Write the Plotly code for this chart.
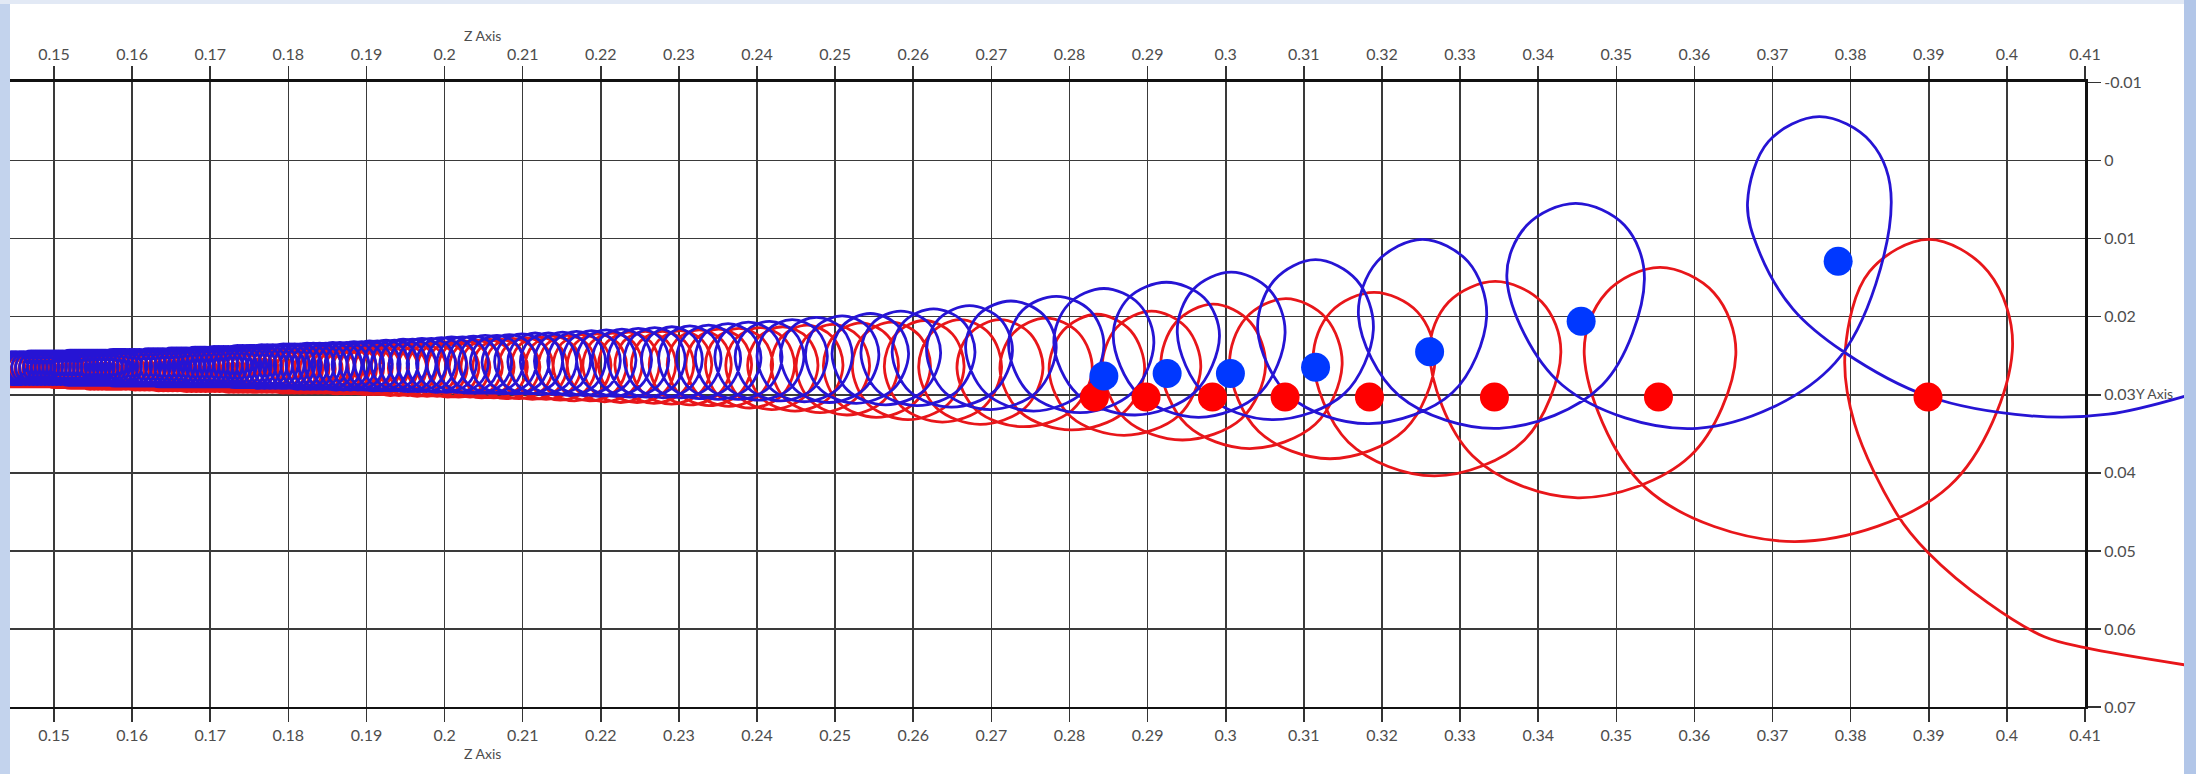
import plotly.graph_objects as go

# ---------------- axis ticks ----------------
x_ticks = [0.15, 0.16, 0.17, 0.18, 0.19, 0.20, 0.21, 0.22, 0.23, 0.24, 0.25, 0.26, 0.27, 0.28,
           0.29, 0.30, 0.31, 0.32, 0.33, 0.34, 0.35, 0.36, 0.37, 0.38, 0.39, 0.40, 0.41]
x_tick_labels = ["0.15", "0.16", "0.17", "0.18", "0.19", "0.2", "0.21", "0.22", "0.23", "0.24",
                 "0.25", "0.26", "0.27", "0.28", "0.29", "0.3", "0.31", "0.32", "0.33", "0.34",
                 "0.35", "0.36", "0.37", "0.38", "0.39", "0.4", "0.41"]
y_ticks = [-0.01, 0.0, 0.01, 0.02, 0.03, 0.04, 0.05, 0.06, 0.07]
y_tick_labels = ["-0.01", "0", "0.01", "0.02", "0.03", "0.04", "0.05", "0.06", "0.07"]

# ---------------- blue trajectory: one entry per loop ----------------
blue_cx = [
    0.1446, 0.1451, 0.1456, 0.1461, 0.1466, 0.1471, 0.1476, 0.1481, 0.1486, 0.1491,
    0.1496, 0.1501, 0.1506, 0.1511, 0.1516, 0.1521, 0.1526, 0.1531, 0.1536, 0.1541,
    0.1546, 0.1551, 0.1556, 0.1561, 0.1566, 0.1571, 0.1576, 0.1581, 0.1586, 0.1591,
    0.1597, 0.1603, 0.1609, 0.1615, 0.1621, 0.1627, 0.1633, 0.1639, 0.1645, 0.1651,
    0.1657, 0.1663, 0.1669, 0.1675, 0.1681, 0.1687, 0.1693, 0.1699, 0.1705, 0.1711,
    0.1717, 0.1723, 0.1729, 0.1735, 0.1741, 0.1747, 0.1753, 0.1759, 0.1766, 0.1773,
    0.1780, 0.1787, 0.1794, 0.1801, 0.1808, 0.1816, 0.1824, 0.1832, 0.1840, 0.1848,
    0.1857, 0.1866, 0.1875, 0.1884, 0.1894, 0.1904, 0.1914, 0.1925, 0.1936, 0.1947,
    0.1959, 0.1971, 0.1983, 0.1996, 0.2009, 0.2023, 0.2037, 0.2052, 0.2067, 0.2083,
    0.2099, 0.2116, 0.2133, 0.2151, 0.2169, 0.2188, 0.2207, 0.2227, 0.2248, 0.2269,
    0.2291, 0.2314, 0.2338, 0.2363, 0.2389, 0.2416, 0.2445, 0.2476, 0.2509, 0.2545,
    0.2584, 0.2626, 0.2672, 0.2725, 0.2783, 0.2844, 0.2924, 0.3007, 0.3115, 0.3252,
    0.3448, 0.3760]
blue_top = [
    0.0245, 0.0245, 0.0245, 0.0245, 0.0245, 0.0244, 0.0244, 0.0244, 0.0244, 0.0244,
    0.0244, 0.0244, 0.0244, 0.0244, 0.0244, 0.0243, 0.0243, 0.0243, 0.0243, 0.0243,
    0.0243, 0.0243, 0.0243, 0.0243, 0.0243, 0.0243, 0.0242, 0.0242, 0.0242, 0.0242,
    0.0242, 0.0242, 0.0242, 0.0242, 0.0241, 0.0241, 0.0241, 0.0241, 0.0241, 0.0240,
    0.0240, 0.0240, 0.0240, 0.0240, 0.0239, 0.0239, 0.0239, 0.0239, 0.0238, 0.0238,
    0.0238, 0.0238, 0.0238, 0.0237, 0.0237, 0.0237, 0.0237, 0.0237, 0.0236, 0.0236,
    0.0236, 0.0236, 0.0235, 0.0235, 0.0235, 0.0235, 0.0234, 0.0234, 0.0234, 0.0234,
    0.0233, 0.0233, 0.0233, 0.0232, 0.0232, 0.0231, 0.0231, 0.0230, 0.0230, 0.0229,
    0.0229, 0.0228, 0.0228, 0.0227, 0.0226, 0.0226, 0.0225, 0.0224, 0.0224, 0.0223,
    0.0222, 0.0221, 0.0221, 0.0220, 0.0219, 0.0218, 0.0217, 0.0216, 0.0215, 0.0214,
    0.0213, 0.0212, 0.0211, 0.0209, 0.0207, 0.0206, 0.0204, 0.0201, 0.0199, 0.0196,
    0.0193, 0.0190, 0.0186, 0.0180, 0.0174, 0.0164, 0.0156, 0.0143, 0.0127, 0.0101,
    0.0055, -0.0056]
blue_mid = [
    0.0265, 0.0265, 0.0265, 0.0265, 0.0265, 0.0265, 0.0265, 0.0265, 0.0265, 0.0265,
    0.0265, 0.0265, 0.0265, 0.0265, 0.0265, 0.0265, 0.0265, 0.0265, 0.0265, 0.0265,
    0.0265, 0.0265, 0.0265, 0.0265, 0.0265, 0.0264, 0.0264, 0.0264, 0.0264, 0.0264,
    0.0264, 0.0264, 0.0264, 0.0264, 0.0264, 0.0264, 0.0264, 0.0264, 0.0264, 0.0264,
    0.0264, 0.0264, 0.0264, 0.0263, 0.0263, 0.0263, 0.0263, 0.0263, 0.0263, 0.0263,
    0.0263, 0.0263, 0.0263, 0.0263, 0.0263, 0.0263, 0.0263, 0.0263, 0.0263, 0.0263,
    0.0263, 0.0263, 0.0263, 0.0262, 0.0262, 0.0262, 0.0262, 0.0262, 0.0262, 0.0262,
    0.0262, 0.0262, 0.0262, 0.0262, 0.0261, 0.0261, 0.0261, 0.0261, 0.0261, 0.0261,
    0.0261, 0.0261, 0.0260, 0.0260, 0.0260, 0.0260, 0.0259, 0.0259, 0.0259, 0.0259,
    0.0258, 0.0258, 0.0258, 0.0257, 0.0257, 0.0257, 0.0256, 0.0256, 0.0256, 0.0255,
    0.0255, 0.0254, 0.0254, 0.0253, 0.0252, 0.0252, 0.0251, 0.0250, 0.0249, 0.0248,
    0.0247, 0.0246, 0.0244, 0.0240, 0.0237, 0.0234, 0.0225, 0.0221, 0.0217, 0.0200,
    0.0152, 0.0054]
blue_hw = [
    0.0020, 0.0020, 0.0020, 0.0020, 0.0020, 0.0020, 0.0020, 0.0020, 0.0020, 0.0020,
    0.0020, 0.0020, 0.0020, 0.0020, 0.0020, 0.0021, 0.0021, 0.0021, 0.0021, 0.0021,
    0.0021, 0.0021, 0.0021, 0.0021, 0.0021, 0.0021, 0.0021, 0.0021, 0.0021, 0.0021,
    0.0022, 0.0022, 0.0022, 0.0022, 0.0022, 0.0022, 0.0022, 0.0022, 0.0022, 0.0022,
    0.0023, 0.0023, 0.0023, 0.0023, 0.0023, 0.0024, 0.0024, 0.0024, 0.0024, 0.0024,
    0.0024, 0.0024, 0.0024, 0.0024, 0.0024, 0.0025, 0.0025, 0.0025, 0.0025, 0.0025,
    0.0025, 0.0025, 0.0026, 0.0026, 0.0026, 0.0026, 0.0027, 0.0027, 0.0027, 0.0027,
    0.0027, 0.0028, 0.0028, 0.0028, 0.0028, 0.0029, 0.0029, 0.0029, 0.0030, 0.0030,
    0.0030, 0.0031, 0.0031, 0.0032, 0.0032, 0.0033, 0.0033, 0.0034, 0.0034, 0.0035,
    0.0035, 0.0035, 0.0036, 0.0036, 0.0037, 0.0037, 0.0038, 0.0038, 0.0039, 0.0039,
    0.0039, 0.0040, 0.0041, 0.0042, 0.0043, 0.0044, 0.0045, 0.0046, 0.0047, 0.0049,
    0.0051, 0.0053, 0.0055, 0.0058, 0.0061, 0.0064, 0.0068, 0.0069, 0.0074, 0.0082,
    0.0088, 0.0092]
# lowest point of the arc between loop i and loop i+1
blue_low = [
    0.0287, 0.0287, 0.0287, 0.0287, 0.0287, 0.0287, 0.0287, 0.0287, 0.0287, 0.0287,
    0.0287, 0.0287, 0.0287, 0.0287, 0.0288, 0.0288, 0.0288, 0.0288, 0.0288, 0.0288,
    0.0288, 0.0288, 0.0288, 0.0288, 0.0288, 0.0288, 0.0289, 0.0289, 0.0289, 0.0289,
    0.0289, 0.0289, 0.0289, 0.0289, 0.0289, 0.0289, 0.0290, 0.0290, 0.0290, 0.0290,
    0.0290, 0.0290, 0.0290, 0.0290, 0.0290, 0.0290, 0.0290, 0.0290, 0.0290, 0.0290,
    0.0290, 0.0290, 0.0291, 0.0291, 0.0291, 0.0291, 0.0291, 0.0292, 0.0292, 0.0292,
    0.0292, 0.0292, 0.0292, 0.0292, 0.0293, 0.0293, 0.0293, 0.0293, 0.0293, 0.0293,
    0.0294, 0.0294, 0.0294, 0.0294, 0.0294, 0.0295, 0.0295, 0.0295, 0.0295, 0.0296,
    0.0296, 0.0296, 0.0297, 0.0297, 0.0297, 0.0298, 0.0298, 0.0298, 0.0299, 0.0299,
    0.0299, 0.0300, 0.0300, 0.0301, 0.0301, 0.0302, 0.0302, 0.0303, 0.0303, 0.0304,
    0.0304, 0.0305, 0.0306, 0.0306, 0.0307, 0.0308, 0.0309, 0.0310, 0.0311, 0.0313,
    0.0314, 0.0316, 0.0319, 0.0321, 0.0323, 0.0326, 0.0329, 0.0332, 0.0337, 0.0343,
    0.0343]
blue_start = [0.1443, 0.0287]
blue_tail_x = [0.3683, 0.3726, 0.3791, 0.3899, 0.4030, 0.4130, 0.4228]
blue_tail_y = [0.0117, 0.0190, 0.0245, 0.0302, 0.0327, 0.0325, 0.0302]

# ---------------- red trajectory: one entry per loop ----------------
red_cx = [
    0.1444, 0.1449, 0.1454, 0.1459, 0.1464, 0.1469, 0.1474, 0.1479, 0.1484, 0.1489,
    0.1494, 0.1499, 0.1504, 0.1509, 0.1514, 0.1519, 0.1524, 0.1529, 0.1534, 0.1539,
    0.1544, 0.1549, 0.1554, 0.1559, 0.1564, 0.1569, 0.1574, 0.1579, 0.1584, 0.1589,
    0.1595, 0.1601, 0.1607, 0.1613, 0.1619, 0.1625, 0.1631, 0.1637, 0.1643, 0.1649,
    0.1655, 0.1661, 0.1667, 0.1673, 0.1679, 0.1685, 0.1691, 0.1697, 0.1703, 0.1709,
    0.1715, 0.1721, 0.1727, 0.1733, 0.1739, 0.1745, 0.1751, 0.1757, 0.1763, 0.1769,
    0.1776, 0.1783, 0.1790, 0.1797, 0.1804, 0.1811, 0.1818, 0.1826, 0.1834, 0.1842,
    0.1850, 0.1858, 0.1867, 0.1876, 0.1885, 0.1894, 0.1904, 0.1914, 0.1925, 0.1936,
    0.1947, 0.1959, 0.1971, 0.1984, 0.1997, 0.2011, 0.2025, 0.2040, 0.2055, 0.2071,
    0.2087, 0.2104, 0.2121, 0.2139, 0.2157, 0.2176, 0.2195, 0.2215, 0.2236, 0.2257,
    0.2279, 0.2302, 0.2326, 0.2351, 0.2377, 0.2404, 0.2433, 0.2464, 0.2497, 0.2533,
    0.2572, 0.2614, 0.2660, 0.2711, 0.2770, 0.2835, 0.2905, 0.2984, 0.3077, 0.3190,
    0.3345, 0.3556, 0.3900]
red_top = [
    0.0249, 0.0249, 0.0249, 0.0249, 0.0249, 0.0248, 0.0248, 0.0248, 0.0248, 0.0248,
    0.0248, 0.0248, 0.0248, 0.0248, 0.0248, 0.0248, 0.0248, 0.0248, 0.0248, 0.0248,
    0.0247, 0.0247, 0.0247, 0.0247, 0.0247, 0.0247, 0.0247, 0.0247, 0.0247, 0.0247,
    0.0247, 0.0247, 0.0247, 0.0246, 0.0246, 0.0246, 0.0246, 0.0246, 0.0246, 0.0246,
    0.0245, 0.0245, 0.0245, 0.0245, 0.0245, 0.0245, 0.0245, 0.0245, 0.0245, 0.0245,
    0.0244, 0.0244, 0.0244, 0.0244, 0.0244, 0.0243, 0.0243, 0.0243, 0.0243, 0.0243,
    0.0243, 0.0242, 0.0242, 0.0242, 0.0241, 0.0241, 0.0241, 0.0240, 0.0240, 0.0240,
    0.0239, 0.0239, 0.0239, 0.0238, 0.0238, 0.0237, 0.0237, 0.0236, 0.0236, 0.0235,
    0.0235, 0.0234, 0.0234, 0.0233, 0.0232, 0.0232, 0.0231, 0.0230, 0.0229, 0.0229,
    0.0228, 0.0227, 0.0226, 0.0225, 0.0224, 0.0223, 0.0222, 0.0221, 0.0220, 0.0219,
    0.0219, 0.0218, 0.0217, 0.0216, 0.0215, 0.0214, 0.0213, 0.0211, 0.0210, 0.0208,
    0.0207, 0.0205, 0.0204, 0.0204, 0.0202, 0.0197, 0.0193, 0.0184, 0.0177, 0.0169,
    0.0155, 0.0137, 0.0101]
red_mid = [
    0.0269, 0.0269, 0.0269, 0.0269, 0.0269, 0.0269, 0.0269, 0.0269, 0.0269, 0.0269,
    0.0269, 0.0269, 0.0269, 0.0269, 0.0269, 0.0269, 0.0269, 0.0269, 0.0269, 0.0269,
    0.0269, 0.0269, 0.0269, 0.0269, 0.0269, 0.0269, 0.0269, 0.0269, 0.0269, 0.0269,
    0.0269, 0.0269, 0.0269, 0.0269, 0.0269, 0.0268, 0.0268, 0.0268, 0.0268, 0.0268,
    0.0268, 0.0268, 0.0268, 0.0268, 0.0268, 0.0268, 0.0268, 0.0268, 0.0268, 0.0268,
    0.0268, 0.0268, 0.0268, 0.0268, 0.0268, 0.0267, 0.0267, 0.0267, 0.0267, 0.0267,
    0.0267, 0.0267, 0.0267, 0.0267, 0.0267, 0.0267, 0.0267, 0.0267, 0.0267, 0.0267,
    0.0267, 0.0267, 0.0267, 0.0267, 0.0267, 0.0266, 0.0266, 0.0266, 0.0266, 0.0266,
    0.0266, 0.0266, 0.0266, 0.0266, 0.0266, 0.0265, 0.0265, 0.0265, 0.0265, 0.0265,
    0.0265, 0.0265, 0.0264, 0.0264, 0.0264, 0.0263, 0.0263, 0.0263, 0.0262, 0.0262,
    0.0262, 0.0262, 0.0262, 0.0262, 0.0262, 0.0263, 0.0263, 0.0263, 0.0264, 0.0264,
    0.0265, 0.0265, 0.0266, 0.0267, 0.0268, 0.0270, 0.0266, 0.0264, 0.0262, 0.0255,
    0.0246, 0.0249, 0.0244]
red_hw = [
    0.0019, 0.0019, 0.0019, 0.0019, 0.0019, 0.0019, 0.0019, 0.0019, 0.0019, 0.0019,
    0.0020, 0.0020, 0.0020, 0.0020, 0.0020, 0.0020, 0.0020, 0.0020, 0.0020, 0.0020,
    0.0020, 0.0020, 0.0020, 0.0020, 0.0020, 0.0021, 0.0021, 0.0021, 0.0021, 0.0021,
    0.0021, 0.0021, 0.0021, 0.0021, 0.0021, 0.0022, 0.0022, 0.0022, 0.0022, 0.0022,
    0.0022, 0.0022, 0.0022, 0.0022, 0.0022, 0.0023, 0.0023, 0.0023, 0.0023, 0.0023,
    0.0023, 0.0023, 0.0023, 0.0023, 0.0023, 0.0024, 0.0024, 0.0024, 0.0024, 0.0024,
    0.0024, 0.0025, 0.0025, 0.0025, 0.0025, 0.0026, 0.0026, 0.0026, 0.0026, 0.0027,
    0.0027, 0.0027, 0.0028, 0.0028, 0.0028, 0.0028, 0.0029, 0.0029, 0.0029, 0.0030,
    0.0030, 0.0031, 0.0031, 0.0032, 0.0032, 0.0033, 0.0033, 0.0034, 0.0034, 0.0035,
    0.0035, 0.0035, 0.0036, 0.0036, 0.0037, 0.0037, 0.0038, 0.0038, 0.0039, 0.0039,
    0.0040, 0.0040, 0.0041, 0.0042, 0.0043, 0.0044, 0.0045, 0.0046, 0.0047, 0.0048,
    0.0050, 0.0051, 0.0053, 0.0055, 0.0059, 0.0061, 0.0063, 0.0067, 0.0072, 0.0078,
    0.0084, 0.0097, 0.0107]
red_low = [
    0.0290, 0.0290, 0.0290, 0.0290, 0.0290, 0.0290, 0.0290, 0.0290, 0.0290, 0.0290,
    0.0290, 0.0291, 0.0291, 0.0291, 0.0291, 0.0292, 0.0292, 0.0292, 0.0292, 0.0292,
    0.0293, 0.0293, 0.0293, 0.0293, 0.0293, 0.0293, 0.0293, 0.0293, 0.0293, 0.0293,
    0.0293, 0.0294, 0.0294, 0.0294, 0.0294, 0.0294, 0.0295, 0.0295, 0.0295, 0.0295,
    0.0295, 0.0295, 0.0296, 0.0296, 0.0296, 0.0296, 0.0296, 0.0296, 0.0296, 0.0296,
    0.0296, 0.0297, 0.0297, 0.0297, 0.0297, 0.0297, 0.0297, 0.0297, 0.0297, 0.0297,
    0.0297, 0.0297, 0.0298, 0.0298, 0.0298, 0.0298, 0.0298, 0.0298, 0.0298, 0.0298,
    0.0298, 0.0299, 0.0299, 0.0299, 0.0299, 0.0300, 0.0300, 0.0300, 0.0301, 0.0301,
    0.0301, 0.0302, 0.0302, 0.0302, 0.0303, 0.0303, 0.0303, 0.0304, 0.0304, 0.0305,
    0.0305, 0.0306, 0.0306, 0.0307, 0.0308, 0.0308, 0.0309, 0.0310, 0.0310, 0.0311,
    0.0312, 0.0313, 0.0314, 0.0315, 0.0317, 0.0319, 0.0321, 0.0323, 0.0326, 0.0329,
    0.0332, 0.0335, 0.0338, 0.0341, 0.0345, 0.0352, 0.0358, 0.0369, 0.0382, 0.0404,
    0.0432, 0.0488]
red_start = [0.1441, 0.0290]
red_tail_x = [0.3805, 0.3860, 0.3899, 0.3975, 0.4048, 0.4100, 0.4228]
red_tail_y = [0.0337, 0.0454, 0.0502, 0.0566, 0.0610, 0.0624, 0.0646]

# ---------------- markers ----------------
blue_marker_x = [0.2844, 0.2925, 0.3006, 0.3115, 0.3261, 0.3455, 0.3784]
blue_marker_y = [0.0276, 0.0273, 0.0273, 0.0265, 0.0245, 0.0206, 0.0129]
red_marker_x = [0.2832, 0.2898, 0.2983, 0.3076, 0.3184, 0.3344, 0.3554, 0.3899]
red_marker_y = [0.0303, 0.0303, 0.0303, 0.0303, 0.0303, 0.0303, 0.0303, 0.0303]

K = 0.71  # 45-degree fraction used to round each quarter of a loop


def build_path(start, cx, top, mid, hw, low, tail_x, tail_y):
    """Key points of each loop in order: bottom -> right -> top -> left -> next bottom."""
    n = min(len(cx), len(top), len(mid), len(hw))
    xs, ys = [start[0]], [start[1]]
    for i in range(n):
        xr, xl = cx[i] + hw[i], cx[i] - hw[i]
        if i > 0 and i - 1 < len(low):
            xb = (cx[i - 1] + cx[i]) / 2.0
            xlp = cx[i - 1] - hw[i - 1]
            xs.append(xb - K * (xb - xlp)); ys.append(mid[i - 1] + K * (low[i - 1] - mid[i - 1]))
            xs.append(xb); ys.append(low[i - 1])
            xs.append(xb + K * (xr - xb)); ys.append(mid[i] + K * (low[i - 1] - mid[i]))
        ytd = mid[i] - K * (mid[i] - top[i])
        xs += [xr, cx[i] + K * hw[i], cx[i], cx[i] - K * hw[i], xl]
        ys += [mid[i], ytd, top[i], ytd, mid[i]]
    xs += list(tail_x)
    ys += list(tail_y)
    return xs, ys


bx, by = build_path(blue_start, blue_cx, blue_top, blue_mid, blue_hw, blue_low, blue_tail_x, blue_tail_y)
rx, ry = build_path(red_start, red_cx, red_top, red_mid, red_hw, red_low, red_tail_x, red_tail_y)

# ---------------- geometry (pixels) ----------------
W, H = 2196, 774
PX_X0, PX_PER_X = 54.0, 7811.5      # pixel of x=0.15, pixels per unit
PX_Y0, PX_PER_Y = 82.3, 7810.0      # pixel of y=-0.01, pixels per unit
WHITE_L, WHITE_R, WHITE_T, WHITE_B = 10, 2184, 4, 774
BOX_R, BOX_B = 2085, 707.1


def xv(px):
    return 0.15 + (px - PX_X0) / PX_PER_X


def yv(py):
    return -0.01 + (py - PX_Y0) / PX_PER_Y


LINE_BLUE = "rgb(38,20,212)"
LINE_RED = "rgb(232,22,26)"
TXT = "#4d4d4d"
FONT = "Lato"
LW = 2.8

fig = go.Figure()
# invisible anchors so the grid subplot (x/y and the top x3 axis) is drawn
fig.add_trace(go.Scatter(x=x_ticks[:1], y=y_ticks[:1], xaxis="x", yaxis="y", mode="markers",
                         marker=dict(opacity=0, size=1), hoverinfo="skip", showlegend=False))
fig.add_trace(go.Scatter(x=x_ticks[:1], y=y_ticks[:1], xaxis="x3", yaxis="y", mode="markers",
                         marker=dict(opacity=0, size=1), hoverinfo="skip", showlegend=False))

fig.add_trace(go.Scatter(x=rx, y=ry, mode="lines", xaxis="x2", yaxis="y2",
                         line=dict(color=LINE_RED, width=LW, shape="spline", smoothing=1.0),
                         hoverinfo="skip", showlegend=False))
fig.add_trace(go.Scatter(x=bx, y=by, mode="lines", xaxis="x2", yaxis="y2",
                         line=dict(color=LINE_BLUE, width=LW, shape="spline", smoothing=1.0),
                         hoverinfo="skip", showlegend=False))
fig.add_trace(go.Scatter(x=red_marker_x, y=red_marker_y, mode="markers", xaxis="x2", yaxis="y2",
                         marker=dict(color="rgb(255,0,0)", size=29, line=dict(width=0)),
                         showlegend=False))
fig.add_trace(go.Scatter(x=blue_marker_x, y=blue_marker_y, mode="markers", xaxis="x2", yaxis="y2",
                         marker=dict(color="rgb(0,56,255)", size=29, line=dict(width=0)),
                         showlegend=False))

tickfont = dict(family=FONT, size=16, color=TXT)
grid_x_range = [xv(WHITE_L), 0.41]
box_dom_x = [WHITE_L / W, BOX_R / W]
box_dom_y = [1 - BOX_B / H, 1 - PX_Y0 / H]
axis_common = dict(tickmode="array", ticks="outside", ticklen=13, tickwidth=1.6, tickcolor="#333",
                   zeroline=False, tickfont=tickfont, fixedrange=True, automargin=False,
                   linecolor="#111")

fig.update_layout(
    template="none",
    width=W, height=H,
    margin=dict(l=0, r=0, t=0, b=0, pad=0, autoexpand=False),
    paper_bgcolor="#c3d3ed",
    plot_bgcolor="rgba(0,0,0,0)",
    showlegend=False,
    hovermode=False,
    xaxis=dict(domain=box_dom_x, range=grid_x_range, anchor="y", side="bottom",
               tickvals=x_ticks, ticktext=x_tick_labels,
               showgrid=True, gridcolor="#3a3a3a", gridwidth=1.6,
               showline=True, linewidth=2, **axis_common),
    xaxis3=dict(overlaying="x", range=grid_x_range, anchor="y", side="top",
                tickvals=x_ticks, ticktext=x_tick_labels,
                showgrid=False, showline=True, linewidth=3, **axis_common),
    yaxis=dict(domain=box_dom_y, range=[0.07, -0.01], anchor="x", side="right",
               tickvals=y_ticks, ticktext=y_tick_labels,
               showgrid=True, gridcolor="#3a3a3a", gridwidth=1.6,
               showline=True, linewidth=3, **axis_common),
    xaxis2=dict(domain=[WHITE_L / W, WHITE_R / W], range=[xv(WHITE_L), xv(WHITE_R)],
                anchor="y2", visible=False, fixedrange=True, automargin=False),
    yaxis2=dict(domain=[0, 1 - WHITE_T / H], range=[yv(WHITE_B), yv(WHITE_T)],
                anchor="x2", visible=False, fixedrange=True, automargin=False),
    shapes=[
        dict(type="rect", xref="paper", yref="paper", x0=0, x1=1, y0=1 - WHITE_T / H, y1=1,
             fillcolor="#e2e9f5", line=dict(width=0), layer="below"),
        dict(type="rect", xref="paper", yref="paper", x0=WHITE_R / W, x1=1, y0=0, y1=1,
             fillcolor="#b2c6e8", line=dict(width=0), layer="below"),
        dict(type="rect", xref="paper", yref="paper", x0=WHITE_L / W, x1=WHITE_R / W,
             y0=0, y1=1 - WHITE_T / H, fillcolor="white", line=dict(width=0), layer="below"),
    ],
    annotations=[
        dict(text="Z Axis", xref="paper", yref="paper", x=482 / W, y=1 - 36 / H,
             xanchor="center", yanchor="middle", showarrow=False,
             font=dict(family=FONT, size=14, color=TXT)),
        dict(text="Z Axis", xref="paper", yref="paper", x=482 / W, y=1 - 753 / H,
             xanchor="center", yanchor="middle", showarrow=False,
             font=dict(family=FONT, size=14, color=TXT)),
        dict(text="Y Axis", xref="paper", yref="paper", x=2134 / W, y=1 - 393 / H,
             xanchor="left", yanchor="middle", showarrow=False,
             font=dict(family=FONT, size=14, color=TXT)),
    ],
)

fig.write_html("out.html",
               config={"displayModeBar": False, "staticPlot": True},
               post_script="document.body.style.margin='0px';document.body.style.overflow='hidden';")
